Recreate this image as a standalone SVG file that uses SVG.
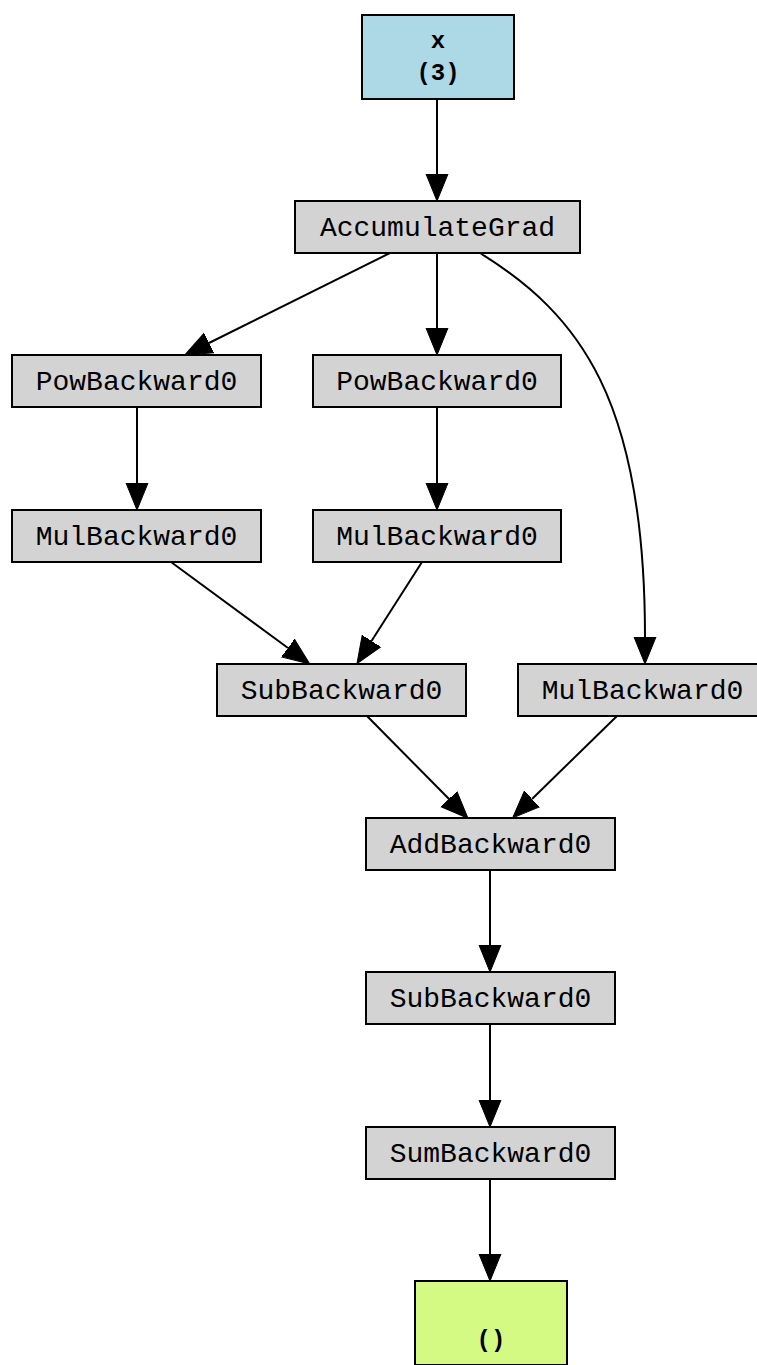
<svg xmlns="http://www.w3.org/2000/svg" width="757" height="1365" viewBox="0 0 757 1365">
  <style>
    .box { stroke: #000; stroke-width: 2; }
    .op { fill: #d3d3d3; }
    .var { fill: #add8e6; }
    .out { fill: #d4fa83; }
    .lbl { font-family: "Liberation Mono", "Courier New", monospace; font-size: 28px; fill: #000; text-anchor: middle; }
    .vlbl { font-family: "Liberation Mono", "Courier New", monospace; font-size: 24px; font-weight: bold; fill: #000; text-anchor: middle; }
    .edge { fill: none; stroke: #000; stroke-width: 2; marker-end: url(#arrow); }
  </style>
  <defs>
    <marker id="arrow" markerUnits="userSpaceOnUse" markerWidth="30" markerHeight="26" refX="0" refY="12" orient="auto" viewBox="0 0 30 24">
      <path d="M0,1 L27,12 L0,23 Z" fill="#000" stroke="#000" stroke-width="1"/>
    </marker>
  </defs>
  <rect width="757" height="1365" fill="#fff"/>

  <g id="connectors">
    <path class="edge" d="M437,99 L437,174"/>
    <path class="edge" d="M390,253 L209,343"/>
    <path class="edge" d="M437,253 L437,328"/>
    <path class="edge" d="M480,253 C580,315 645,400 645,637"/>
    <path class="edge" d="M137,407 L137,483"/>
    <path class="edge" d="M437,407 L437,483"/>
    <path class="edge" d="M171,562 L288,648"/>
    <path class="edge" d="M422,562 L371.5,641"/>
    <path class="edge" d="M367,716 L449,799"/>
    <path class="edge" d="M617,716 L532,799"/>
    <path class="edge" d="M490,870 L490,945"/>
    <path class="edge" d="M490,1024 L490,1100"/>
    <path class="edge" d="M490,1179 L490,1254"/>
  </g>

  <g id="node-x">
    <rect class="box var" x="362" y="15" width="152" height="84"/>
    <text class="vlbl" x="438" y="48">x</text>
    <text class="vlbl" x="438" y="80">(3)</text>
  </g>
  <g id="node-accumulategrad">
    <rect class="box op" x="295" y="201" width="285" height="52"/>
    <text class="lbl" x="437.5" y="236">AccumulateGrad</text>
  </g>
  <g id="node-pow-left">
    <rect class="box op" x="12" y="355" width="249" height="52"/>
    <text class="lbl" x="136.5" y="390">PowBackward0</text>
  </g>
  <g id="node-pow-right">
    <rect class="box op" x="313" y="355" width="248" height="52"/>
    <text class="lbl" x="437" y="390">PowBackward0</text>
  </g>
  <g id="node-mul-left">
    <rect class="box op" x="12" y="510" width="249" height="52"/>
    <text class="lbl" x="136.5" y="545">MulBackward0</text>
  </g>
  <g id="node-mul-mid">
    <rect class="box op" x="313" y="510" width="248" height="52"/>
    <text class="lbl" x="437" y="545">MulBackward0</text>
  </g>
  <g id="node-sub-1">
    <rect class="box op" x="217" y="664" width="249" height="52"/>
    <text class="lbl" x="341.5" y="699">SubBackward0</text>
  </g>
  <g id="node-mul-right">
    <rect class="box op" x="518" y="664" width="249" height="52"/>
    <text class="lbl" x="642.5" y="699">MulBackward0</text>
  </g>
  <g id="node-add">
    <rect class="box op" x="366" y="818" width="249" height="52"/>
    <text class="lbl" x="490.5" y="853">AddBackward0</text>
  </g>
  <g id="node-sub-2">
    <rect class="box op" x="366" y="972" width="249" height="52"/>
    <text class="lbl" x="490.5" y="1007">SubBackward0</text>
  </g>
  <g id="node-sum">
    <rect class="box op" x="366" y="1127" width="249" height="52"/>
    <text class="lbl" x="490.5" y="1162">SumBackward0</text>
  </g>
  <g id="node-output">
    <rect class="box out" x="415" y="1281" width="152" height="84"/>
    <text class="vlbl" x="491" y="1347">()</text>
  </g>
</svg>
